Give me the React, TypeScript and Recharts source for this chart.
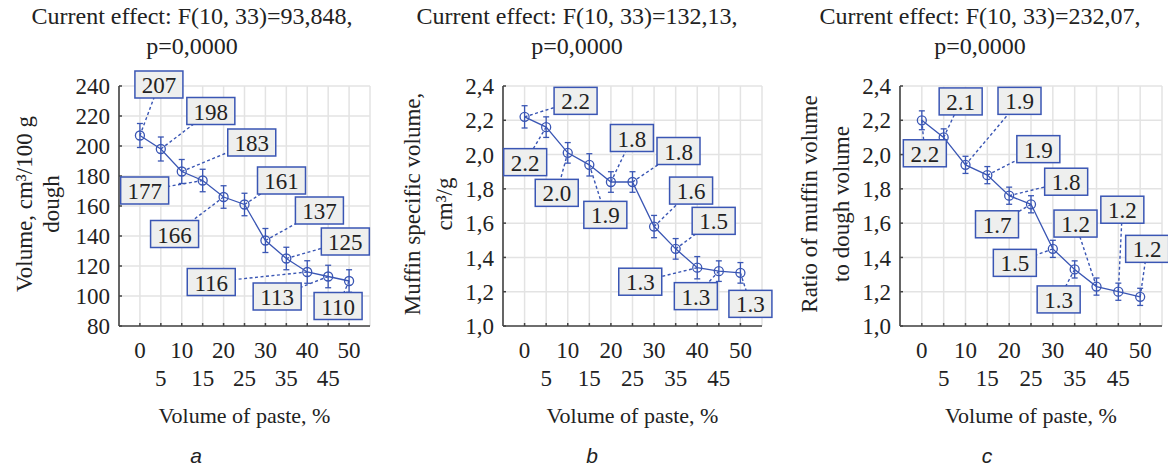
import React from "react";
import { LineChart, Line, XAxis, YAxis, CartesianGrid, ErrorBar, LabelList } from "recharts";

// paste share, % of volume
const pasteShare = [0, 5, 10, 15, 20, 25, 30, 35, 40, 45, 50];

// a: volume, cm3 per 100 g dough
const volume = [207, 198, 183, 177, 166, 161, 137, 125, 116, 113, 110];
const volumeErr = [8, 8, 8, 7.5, 7.5, 7.5, 8, 7.5, 7.5, 7.5, 7.5];
const volumeTags = ["207", "198", "183", "177", "166", "161", "137", "125", "116", "113", "110"];

// b: specific volume, cm3/g
const specVolume = [2.22, 2.16, 2.01, 1.94, 1.84, 1.84, 1.58, 1.45, 1.34, 1.32, 1.31];
const specErr = [0.065, 0.06, 0.06, 0.065, 0.06, 0.06, 0.065, 0.06, 0.065, 0.06, 0.06];
const specTags = ["2.2", "2.2", "2.0", "1.9", "1.8", "1.8", "1.6", "1.5", "1.3", "1.3", "1.3"];

// c: muffin volume / dough volume
const ratio = [2.2, 2.1, 1.94, 1.88, 1.76, 1.71, 1.45, 1.33, 1.23, 1.2, 1.17];
const ratioErr = [0.055, 0.05, 0.05, 0.05, 0.05, 0.05, 0.05, 0.05, 0.05, 0.05, 0.05];
const ratioTags = ["2.2", "2.1", "1.9", "1.9", "1.8", "1.7", "1.5", "1.3", "1.2", "1.2", "1.2"];

const xTicks = [0, 5, 10, 15, 20, 25, 30, 35, 40, 45, 50];
const volumeTicks = [80, 100, 120, 140, 160, 180, 200, 220, 240];
const shareTicks = [1.0, 1.2, 1.4, 1.6, 1.8, 2.0, 2.2, 2.4];

// callout box offsets from their point, px
const volumeShift = [[19, -51], [50, -38], [70, -29], [-58, 10], [-49, 37], [37, -24], [54, -30], [59, -17], [-96, 10], [-51, 20], [-11, 25]];
const specShift = [[51, -16], [-21, 35], [-11, 40], [16, 50], [21, -44], [46, -31], [37, -36], [38, -28], [-57, 14], [-23, 25], [10, 31]];
const ratioShift = [[3, 33], [17, -36], [54, -64], [51, -26], [57, -14], [-34, 20], [-38, 14], [-16, 30], [-21, -63], [4, -82], [7, -48]];

const BLUE = "#3a56b4";
const AXIS = "#444";
const SERIF = "Liberation Serif, DejaVu Serif, Times New Roman, serif";

const makeRows = (vals: number[], errs: number[], tags: string[]) =>
  pasteShare.map((p, i) => ({ p, v: vals[i], err: errs[i], tag: tags[i] }));

const PasteTick = (props: any) => {
  const { x, y, payload } = props;
  const second = payload.value % 10 !== 0;
  return (
    <text x={x} y={y + (second ? 60 : 32)} textAnchor="middle" fontSize={23} fill="#222" style={{ fontFamily: SERIF }}>
      {payload.value}
    </text>
  );
};

const NoTick = () => <g />;

const makeCallout = (shift: number[][], boxW: number) => (props: any) => {
  const { x, y, value, index } = props;
  const [dx, dy] = shift[index];
  const cx = x + dx;
  const cy = y + dy;
  const h = 27;
  return (
    <g key={`c${index}`}>
      <line x1={x} y1={y} x2={cx} y2={cy} stroke={BLUE} strokeWidth={1.4} strokeDasharray="3 2.5" />
      <rect x={cx - boxW / 2} y={cy - h / 2} width={boxW} height={h} fill="#eeefee" stroke={BLUE} strokeWidth={1.5} />
      <text x={cx} y={cy + 1} textAnchor="middle" dominantBaseline="central" fontSize={23} fill="#222" style={{ fontFamily: SERIF }}>
        {value}
      </text>
    </g>
  );
};

type Panel = {
  left: number;
  width: number;
  mLeft: number;
  mRight: number;
  stat: string;
  center: number;
  yDomain: [number, number];
  yTicks: number[];
  fmt: (v: number) => string;
  yLines: string[];
  yLineX: number[];
  rows: any[];
  shift: number[][];
  boxW: number;
  letter: string;
  letterX: number;
};

const decimal = (v: number) => v.toFixed(1).replace(".", ",");

const panels: Panel[] = [
  {
    left: 0, width: 390, mLeft: 69, mRight: 20, stat: "F(10, 33)=93,848,", center: 192,
    yDomain: [80, 240], yTicks: volumeTicks, fmt: (v) => String(v),
    yLines: ["Volume, cm³/100 g", "dough"], yLineX: [25, 52],
    rows: makeRows(volume, volumeErr, volumeTags), shift: volumeShift, boxW: 48, letter: "a", letterX: 196,
  },
  {
    left: 390, width: 390, mLeft: 63, mRight: 18, stat: "F(10, 33)=132,13,", center: 577,
    yDomain: [1, 2.4], yTicks: shareTicks, fmt: decimal,
    yLines: ["Muffin specific volume,", "cm³/g"], yLineX: [23, 55],
    rows: makeRows(specVolume, specErr, specTags), shift: specShift, boxW: 43, letter: "b", letterX: 592,
  },
  {
    left: 775, width: 393, mLeft: 75, mRight: 6, stat: "F(10, 33)=232,07,", center: 980,
    yDomain: [1, 2.4], yTicks: shareTicks, fmt: decimal,
    yLines: ["Ratio of muffin volume", "to dough volume"], yLineX: [35, 67],
    rows: makeRows(ratio, ratioErr, ratioTags), shift: ratioShift, boxW: 43, letter: "c", letterX: 987,
  },
];

function EffectPanel({ cfg }: { cfg: Panel }) {
  const plotCenter = cfg.left + cfg.mLeft + 50 + (cfg.width - cfg.mLeft - 50 - cfg.mRight) / 2;
  return (
    <>
      <div
        style={{
          position: "absolute", left: cfg.center - 200, top: 1, width: 400, textAlign: "center",
          fontFamily: SERIF, fontSize: 24, lineHeight: "30px", color: "#222",
        }}
      >
        Current effect: {cfg.stat}
        <br />
        p=0,0000
      </div>
      {cfg.yLines.map((t, i) => (
        <div
          key={t}
          style={{
            position: "absolute", left: cfg.left + cfg.yLineX[i], top: 204, whiteSpace: "nowrap",
            transform: "translate(-50%, -50%) rotate(-90deg)", fontFamily: SERIF, fontSize: 23, color: "#222",
          }}
        >
          {t}
        </div>
      ))}
      <div
        style={{
          position: "absolute", left: plotCenter - 150, top: 401, width: 300, textAlign: "center",
          fontFamily: SERIF, fontSize: 22, color: "#222", lineHeight: "30px",
        }}
      >
        Volume of paste, %
      </div>
      <div
        style={{
          position: "absolute", left: cfg.letterX - 20, top: 444, width: 40, textAlign: "center",
          fontFamily: "Liberation Sans, sans-serif", fontStyle: "italic", fontSize: 21, color: "#222",
        }}
      >
        {cfg.letter}
      </div>
      <div style={{ position: "absolute", left: cfg.left, top: 0 }}>
        <LineChart
          width={cfg.width}
          height={468}
          data={cfg.rows}
          margin={{ top: 86, right: cfg.mRight, bottom: 82, left: cfg.mLeft }}
        >
          <CartesianGrid stroke="#e3e3e3" strokeWidth={1.5} />
          <XAxis
            dataKey="p"
            type="number"
            domain={[-5, 55]}
            ticks={xTicks}
            interval={0}
            height={60}
            tick={PasteTick}
            tickSize={-3}
            tickMargin={3}
            tickLine={{ stroke: AXIS, strokeWidth: 1.5 }}
            axisLine={{ stroke: AXIS, strokeWidth: 1.6 }}
          />
          <XAxis
            xAxisId="top"
            orientation="top"
            type="number"
            domain={[-5, 55]}
            ticks={xTicks}
            interval={0}
            height={0}
            tick={NoTick}
            tickSize={-3}
            tickLine={{ stroke: AXIS, strokeWidth: 1.5 }}
            axisLine={{ stroke: AXIS, strokeWidth: 1.6 }}
          />
          <YAxis
            type="number"
            domain={cfg.yDomain}
            ticks={cfg.yTicks}
            interval={0}
            width={50}
            tickFormatter={cfg.fmt}
            tickSize={-3}
            tickMargin={12}
            tick={{ fontSize: 23, fill: "#222", style: { fontFamily: SERIF } }}
            tickLine={{ stroke: AXIS, strokeWidth: 1.5 }}
            axisLine={{ stroke: AXIS, strokeWidth: 1.6 }}
          />
          <YAxis
            yAxisId="right"
            orientation="right"
            type="number"
            domain={cfg.yDomain}
            ticks={cfg.yTicks}
            interval={0}
            width={0}
            tick={NoTick}
            tickSize={-3}
            tickLine={{ stroke: AXIS, strokeWidth: 1.5 }}
            axisLine={{ stroke: AXIS, strokeWidth: 1.6 }}
          />
          <Line
            type="linear"
            dataKey="v"
            stroke={BLUE}
            strokeWidth={1.3}
            dot={{ r: 4.5, fill: "none", stroke: BLUE, strokeWidth: 1.3 }}
            isAnimationActive={false}
          >
            <ErrorBar dataKey="err" width={3} stroke={BLUE} strokeWidth={1.3} />
            <LabelList dataKey="tag" content={makeCallout(cfg.shift, cfg.boxW)} />
          </Line>
        </LineChart>
      </div>
    </>
  );
}

export default function App() {
  return (
    <div style={{ position: "absolute", left: 0, top: 0, width: 1168, height: 468, background: "#fff", overflow: "hidden" }}>
      {panels.map((cfg) => (
        <EffectPanel key={cfg.letter} cfg={cfg} />
      ))}
    </div>
  );
}
